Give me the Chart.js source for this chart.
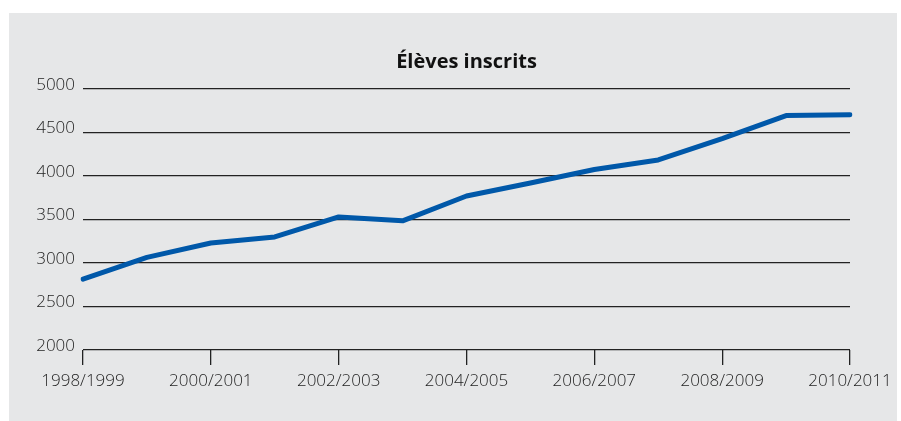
<!DOCTYPE html>
<html>
<head>
<meta charset="utf-8">
<script src="https://cdn.jsdelivr.net/npm/chart.js@4"></script>
<style>
html,body{margin:0;padding:0;background:#fff;}
#wrap{position:absolute;left:0;top:0;width:901px;height:421px;}
</style>
</head>
<body>
<div id="wrap"><canvas id="c" width="901" height="421"></canvas></div>
<script>
const categories = ["1998/1999","1999/2000","2000/2001","2001/2002","2002/2003","2003/2004","2004/2005","2005/2006","2006/2007","2007/2008","2008/2009","2009/2010","2010/2011"];
const enrolled = [2815, 3065, 3230, 3300, 3530, 3485, 3770, 3920, 4075, 4185, 4430, 4695, 4705];
const yTicks = [2000, 2500, 3000, 3500, 4000, 4500, 5000];
const titleText = "Élèves inscrits";

const panelBg = {
  id: 'panelBg',
  beforeDraw(chart) {
    const ctx = chart.ctx;
    ctx.save();
    ctx.fillStyle = '#ffffff';
    ctx.fillRect(0, 0, chart.width, chart.height);
    ctx.fillStyle = '#e6e7e8';
    ctx.fillRect(9, 13, 888, 408);
    ctx.restore();
  }
};

const FONT = "'Open Sans', 'Noto Sans', sans-serif";

new Chart(document.getElementById('c'), {
  type: 'line',
  data: {
    labels: categories,
    datasets: [{
      label: titleText,
      data: enrolled,
      borderColor: '#0058a9',
      backgroundColor: '#0058a9',
      borderWidth: 5,
      borderCapStyle: 'round',
      borderJoinStyle: 'round',
      pointRadius: 0,
      tension: 0,
      fill: false
    }]
  },
  options: {
    responsive: false,
    animation: false,
    devicePixelRatio: 1,
    layout: { padding: { left: 0, right: 51, top: 50, bottom: 0 } },
    plugins: {
      legend: { display: false },
      tooltip: { enabled: false },
      title: {
        display: true,
        text: titleText,
        fullSize: false,
        color: '#111',
        font: { family: FONT, size: 20, weight: 'bold' },
        padding: { top: 0, bottom: 15 }
      }
    },
    scales: {
      x: {
        type: 'category',
        offset: false,
        border: { display: false },
        grid: {
          display: true,
          drawOnChartArea: false,
          drawTicks: true,
          tickLength: 15,
          lineWidth: 1.3,
          color: (c) => (c.index % 2 === 0 ? '#222' : 'rgba(0,0,0,0)')
        },
        ticks: {
          autoSkip: false,
          maxRotation: 0,
          padding: 6,
          color: '#1e1e1e',
          font: { family: FONT, size: 17, weight: 300 },
          callback: function(v, i) { return i % 2 === 0 ? categories[i] : ''; }
        },
        afterFit: (s) => { s.height = 71; }
      },
      y: {
        min: yTicks[0],
        max: yTicks[yTicks.length - 1],
        border: { display: false },
        grid: {
          drawTicks: false,
          lineWidth: 1.3,
          color: '#222'
        },
        ticks: {
          stepSize: 500,
          padding: 8,
          labelOffset: -4,
          color: '#1e1e1e',
          font: { family: FONT, size: 17, weight: 300 },
          callback: (v) => String(v)
        },
        afterFit: (s) => { s.width = 83; }
      }
    }
  },
  plugins: [panelBg]
});
</script>
</body>
</html>
